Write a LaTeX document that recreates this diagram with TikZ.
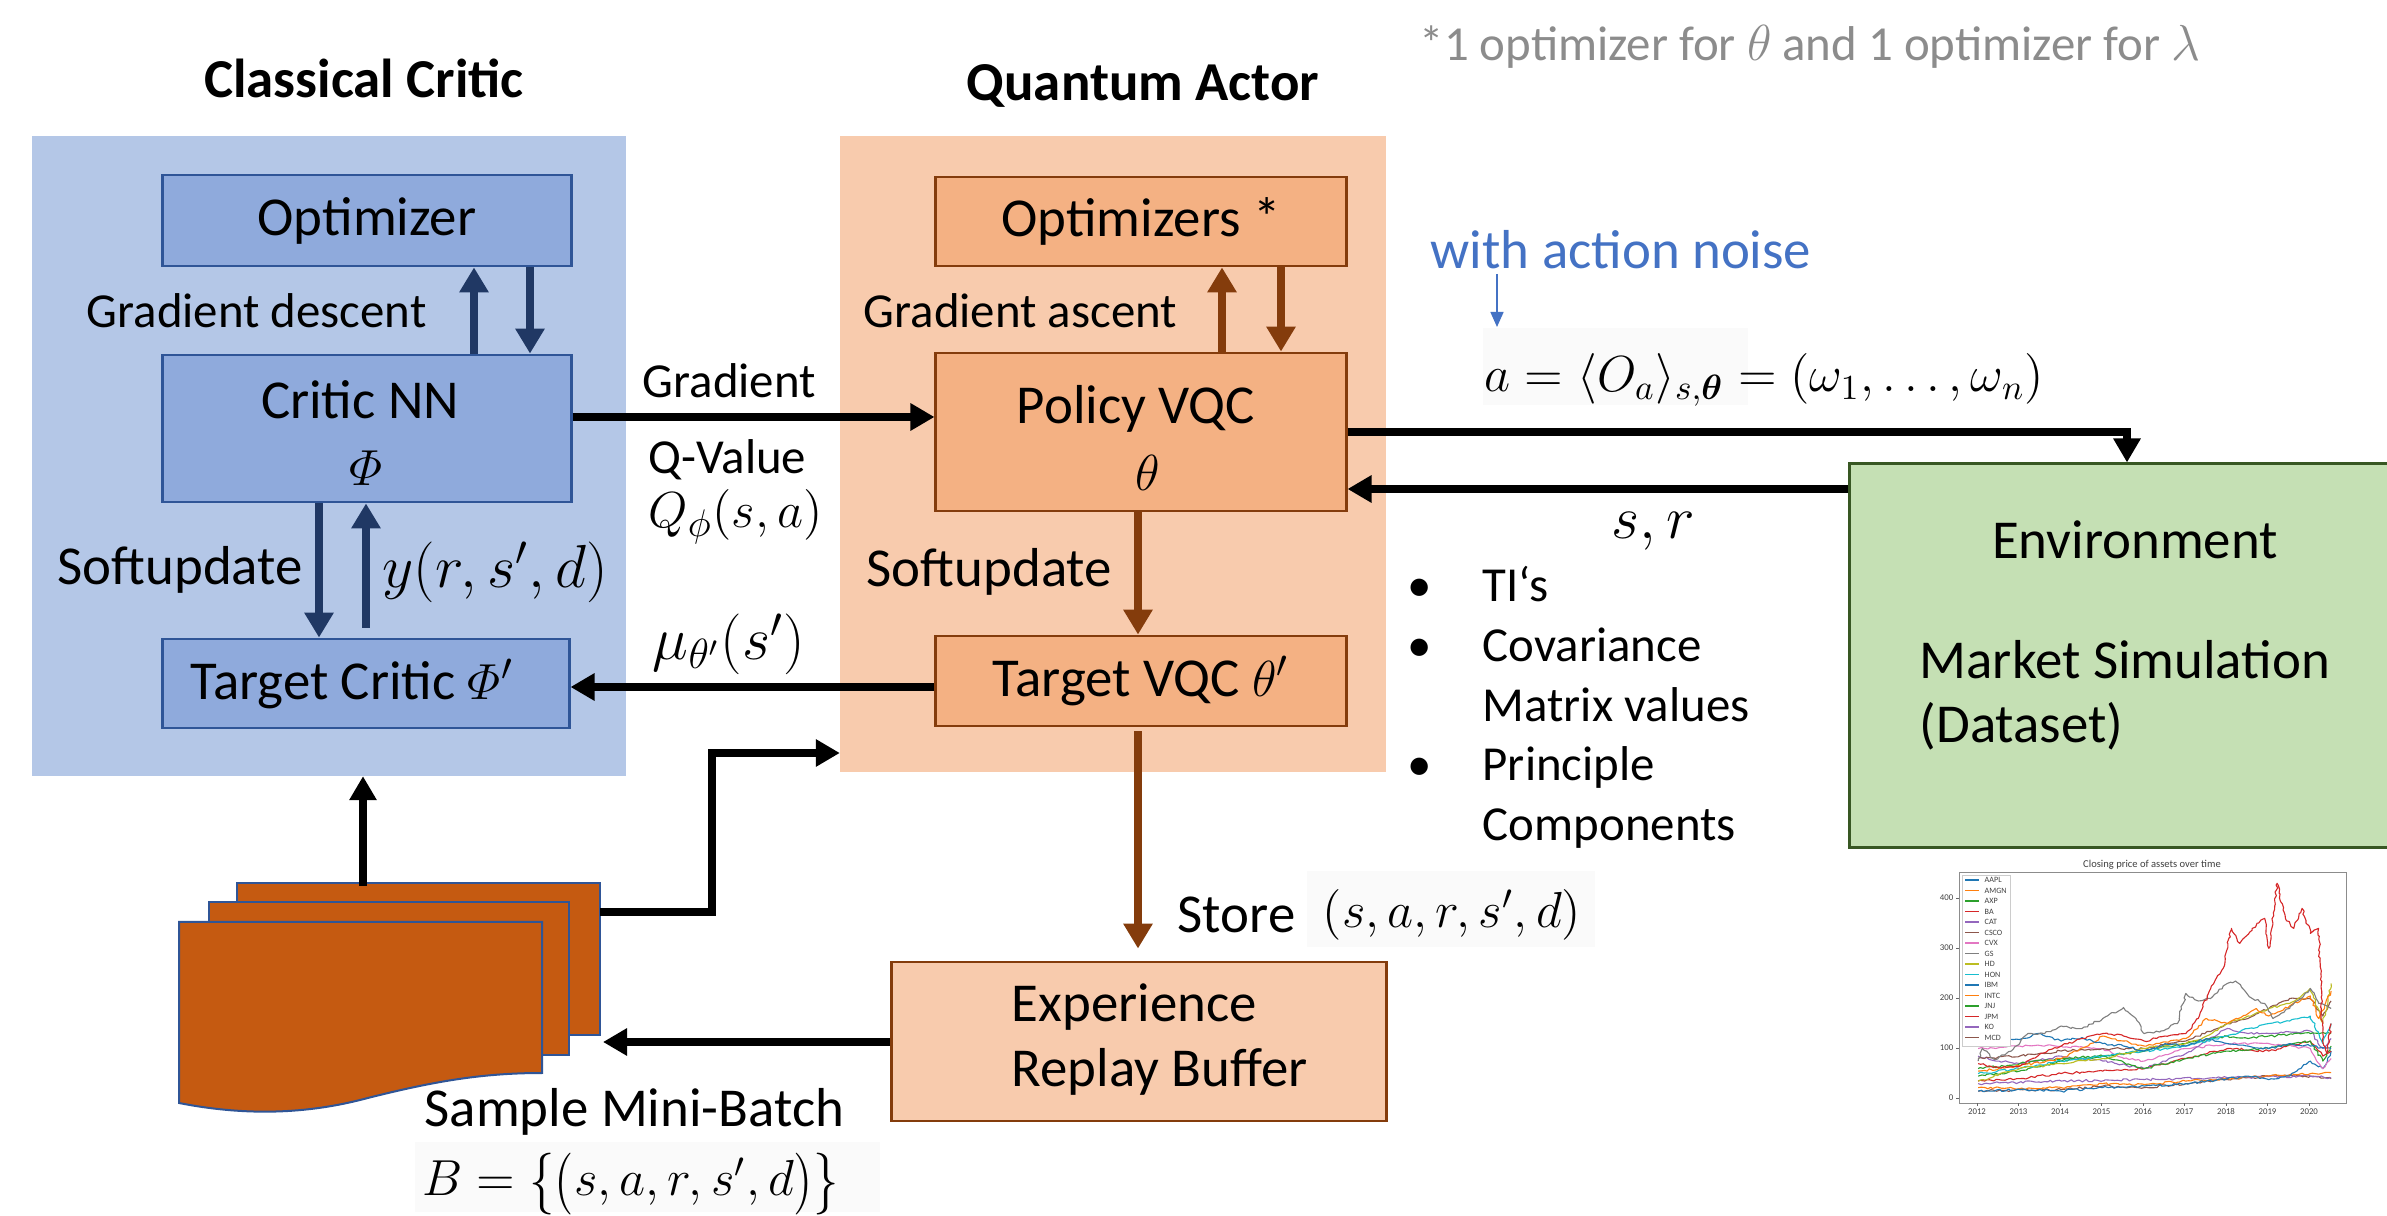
\documentclass[tikz,border=0pt]{standalone}
\usepackage{amsmath}
\usepackage{graphicx}
\usepackage{fontspec}
\setmainfont{Carlito}
\usetikzlibrary{arrows.meta,decorations.pathmorphing}
\definecolor{critbg}{HTML}{B4C7E7}
\definecolor{critbox}{HTML}{8FAADC}
\definecolor{critline}{HTML}{2F5597}
\definecolor{navy}{HTML}{203864}
\definecolor{actbg}{HTML}{F8CBAD}
\definecolor{actbox}{HTML}{F4B183}
\definecolor{brn}{HTML}{843C0C}
\definecolor{envbg}{HTML}{C5E0B4}
\definecolor{envline}{HTML}{385723}
\definecolor{docfill}{HTML}{C55A11}
\definecolor{noteblue}{HTML}{4472C4}
\definecolor{notegray}{HTML}{8C8C8C}
\definecolor{c1}{HTML}{1F77B4}
\definecolor{c2}{HTML}{FF7F0E}
\definecolor{c3}{HTML}{2CA02C}
\definecolor{c4}{HTML}{D62728}
\definecolor{c5}{HTML}{9467BD}
\definecolor{c6}{HTML}{8C564B}
\definecolor{c7}{HTML}{E377C2}
\definecolor{c8}{HTML}{7F7F7F}
\definecolor{c9}{HTML}{BCBD22}
\definecolor{c10}{HTML}{17BECF}
\newcommand{\fbig}{\fontsize{15.6}{19}\selectfont}
\newcommand{\fsml}{\fontsize{13.9}{17}\selectfont}
\newcommand{\fmath}{\fontsize{15}{18}\selectfont}
\newcommand{\fmathL}{\fontsize{17}{20}\selectfont}
\newcommand{\ftex}{\fontsize{14.2}{18}\selectfont}
\newcommand{\tallL}[1]{\mathopen{\raisebox{-0.07em}{\scalebox{1}[1.22]{$#1$}}}}
\newcommand{\tallR}[1]{\mathclose{\raisebox{-0.07em}{\scalebox{1}[1.22]{$#1$}}}}
\begin{document}
\begin{tikzpicture}[x=0.01cm,y=-0.01cm,
  region/.style={inner sep=0,outer sep=0},
  cbox/.style={draw=critline,fill=critbox,line width=0.028cm,inner sep=0,font=\fbig},
  abox/.style={draw=brn,fill=actbox,line width=0.028cm,inner sep=0,font=\fbig},
  lbl/.style={inner sep=0,font=\fbig},
  slbl/.style={inner sep=0,font=\fsml},
  mlbl/.style={inner sep=0,font=\fmath},
  blk/.style={draw=black,line width=0.075cm,-{Triangle[length=0.24cm,width=0.26cm]}},
  nvy/.style={draw=navy,line width=0.08cm,-{Triangle[length=0.25cm,width=0.28cm]}},
  brw/.style={draw=brn,line width=0.08cm,-{Triangle[length=0.25cm,width=0.28cm]}},
  docpage/.style={draw=critline,fill=docfill,line width=0.02cm},
  ser/.style={line width=0.011cm,line join=round,decorate,decoration={random steps,segment length=0.03cm,amplitude=0.012cm}},
  tiny/.style={inner sep=0,text=black!75}
]
\useasboundingbox (0,0) rectangle (2387,1216);
\fill[white] (0,0) rectangle (2387,1216);
\pgfmathsetseed{7}

% regions
\node[region,fill=critbg,minimum width=5.94cm,minimum height=6.40cm] (critReg) at (329,456) {};
\node[region,fill=actbg,minimum width=5.46cm,minimum height=6.36cm] (actReg) at (1113,454) {};
\node[lbl,font=\fbig\bfseries] (tCrit) at (364,78) {Classical Critic};
\node[lbl,font=\fbig\bfseries] (tAct) at (1143,86) {Quantum Actor};

% critic boxes
\node[cbox,minimum width=4.08cm,minimum height=0.91cm] (opt) at (367,220.5) {Optimizer};
\node[cbox,minimum width=4.08cm,minimum height=1.47cm] (cnn) at (367,428.5) {};
\node[lbl] (cnnA) at (360,400) {Critic NN};
\node[mlbl] (cnnB) at (366,468) {$\varPhi$};
\node[cbox,minimum width=4.06cm,minimum height=0.89cm] (tcrit) at (366,683.5) {};
\node[lbl] (tcritT) at (352,684) {Target Critic $\varPhi'$};

% actor boxes
\node[abox,minimum width=4.10cm,minimum height=0.89cm] (opts) at (1141,221.5) {Optimizers *};
\node[abox,minimum width=4.10cm,minimum height=1.58cm] (pol) at (1141,432) {};
\node[lbl] (polA) at (1136,409) {Policy VQC};
\node[mlbl] (polB) at (1148,473) {$\theta$};
\node[abox,minimum width=4.10cm,minimum height=0.90cm] (tvqc) at (1141,681) {Target VQC $\theta'$};

% replay buffer
\node[draw=brn,fill=actbg,line width=0.028cm,minimum width=4.94cm,minimum height=1.59cm,inner sep=0] (rep) at (1139,1041.5) {};
\node[lbl,anchor=west] (repA) at (1011,1007) {Experience};
\node[lbl,anchor=west] (repB) at (1011,1072) {Replay Buffer};

% environment
\node[draw=envline,fill=envbg,line width=0.028cm,minimum width=5.50cm,minimum height=3.83cm,inner sep=0] (env) at (2125,655.5) {};
\node[lbl] (envA) at (2135,540) {Environment};
\node[lbl,anchor=west] (envB) at (1919,660) {Market Simulation};
\node[lbl,anchor=west] (envC) at (1919,726) {(Dataset)};

% document stack
\filldraw[docpage] (237,883) rectangle (600,1035);
\filldraw[docpage] (209,902) rectangle (569,1055);
\filldraw[docpage] (179,922) -- (542,922) -- (542,1073) .. controls (480,1073) and (430,1082) .. (360,1100) .. controls (300,1115) and (240,1115) .. (179,1103) -- cycle;
\coordinate (stackTop) at (363,886);
\coordinate (stackR) at (600,912);
\coordinate (stackIn) at (603,1042);

% critic arrows
\coordinate (xa) at (474,0); \coordinate (xb) at (530,0);
\coordinate (xc) at (319,0); \coordinate (xd) at (366,0);
\draw[nvy] (cnn.north -| xa) -- (opt.south -| xa);
\draw[nvy] (opt.south -| xb) -- (cnn.north -| xb);
\draw[nvy] (cnn.south -| xc) -- (tcrit.north -| xc);
\draw[nvy,shorten <=0.1cm] (tcrit.north -| xd) -- (cnn.south -| xd);

% actor arrows
\coordinate (xe) at (1222,0); \coordinate (xf) at (1281,0); \coordinate (xg) at (1138,0);
\draw[brw] (pol.north -| xe) -- (opts.south -| xe);
\draw[brw] (opts.south -| xf) -- (pol.north -| xf);
\draw[brw] (pol.south -| xg) -- (tvqc.north -| xg);
\draw[brw,shorten <=0.04cm,shorten >=0.12cm] (tvqc.south -| xg) -- (rep.north -| xg);

% black connectors
\coordinate (gy) at (0,417);
\draw[blk] (cnn.east |- gy) -- (pol.west |- gy);
\coordinate (my) at (0,687);
\draw[blk] (tvqc.west |- my) -- (tcrit.east |- my);
\coordinate (py) at (0,432); \coordinate (ex) at (2127,0);
\draw[blk] (pol.east |- py) -| (env.north -| ex);
\coordinate (sy) at (0,489);
\draw[blk] (env.west |- sy) -- (pol.east |- sy);
\draw[blk] (rep.west |- stackIn) -- (stackIn);
\draw[blk] (stackTop) -- (critReg.south -| stackTop);
\coordinate (sa) at (712,753);
\draw[blk] (stackR) -| (sa) -- (actReg.west |- sa);

% labels
\node[slbl,anchor=west] (gd) at (86,311) {Gradient descent};
\node[slbl,anchor=west] (ga) at (863,311) {Gradient ascent};
\node[lbl,anchor=west] (su1) at (57,570) {Softupdate};
\node[lbl,anchor=west] (su2) at (866,572) {Softupdate};
\node[mlbl,font=\fmathL,anchor=west] (ylab) at (382,572) {$y(r,s',d)$};
\node[slbl,anchor=west] (grl) at (642,381) {Gradient};
\node[slbl,anchor=west] (qv) at (648,460) {Q-Value};
\node[mlbl,anchor=west] (qf) at (648,517) {$Q_\phi(s,a)$};
\node[mlbl,font=\fmathL,anchor=west] (mu) at (652,644) {$\mu_{\theta'}(s')$};

\node[lbl,anchor=west] (smb) at (424,1112) {Sample Mini-Batch};
\fill[black!2] (415,1142) rectangle (880,1212);
\node[inner sep=0,font=\fontsize{14.6}{18}\selectfont,anchor=west] (bset) at (422,1184) {$B=\tallL{\{}\tallL{(}s,a,r,s',d\tallR{)}\tallR{\}}$};

\node[lbl,anchor=west] (store) at (1177,915) {Store};
\fill[black!2] (1307,871) rectangle (1595,947);
\node[inner sep=0,font=\ftex] (storeM) at (1452,915) {$(s,a,r,s',d)$};

\fill[black!2] (1483,328) rectangle (1748,405);
\node[inner sep=0,font=\fontsize{13.8}{17}\selectfont,anchor=west] (eq) at (1484,380) {$a=\langle O_a\rangle_{s,\boldsymbol{\theta}}=(\omega_1,\ldots,\omega_n)$};
\node[mlbl,font=\fontsize{16}{19}\selectfont] (sr) at (1653,531) {$s,r$};
\node[lbl,text=noteblue,anchor=west] (noise) at (1430,250) {with action noise};
\coordinate (bn1) at (1497,274); \coordinate (bn2) at (1497,327);
\draw[noteblue,line width=0.015cm,-{Triangle[length=0.15cm,width=0.13cm]}] (bn1) -- (bn2);
\node[slbl,text=notegray,anchor=west] (note) at (1419,47) {*1 optimizer for $\theta$ and 1 optimizer for $\lambda$};

% bullets
\node[slbl,anchor=base] (b1) at (1420,602) {•};
\node[slbl,anchor=base] (b2) at (1420,662) {•};
\node[slbl,anchor=base] (b3) at (1420,781) {•};
\node[slbl,anchor=base west] (t1) at (1482,602) {TI‘s};
\node[slbl,anchor=base west] (t2) at (1482,662) {Covariance};
\node[slbl,anchor=base west] (t3) at (1482,722) {Matrix values};
\node[slbl,anchor=base west] (t4) at (1482,781) {Principle};
\node[slbl,anchor=base west] (t5) at (1482,841) {Components};

% chart
\begin{scope}
\clip (1959,872) rectangle (2346,1103);
\begin{scope}[shift={(19.77cm,-10.98cm)},x=0.415cm,y=0.005cm]
\draw[c6,ser] (0,15)--(2,18)--(3,25)--(4,22)--(5,30)--(6,38)--(7,45)--(8,45)--(8.5,40);
\draw[c5,ser] (0,30)--(2,35)--(4,38)--(6,42)--(8,45)--(8.5,42);
\draw[c2,ser] (0,22)--(1,20)--(2,22)--(3,30)--(4,28)--(5,35)--(6,40)--(7,45)--(8,50)--(8.5,52);
\draw[c1,ser] (0,15)--(1,18)--(2,15)--(3,22)--(4,25)--(5,30)--(6,40)--(6.5,45)--(7,38)--(7.5,45)--(8,75)--(8.3,60)--(8.5,95);
\draw[c4,ser] (0,35)--(1,40)--(2,50)--(3,55)--(4,60)--(5,80)--(6,100)--(7,95)--(8,115)--(8.3,85)--(8.5,95);
\draw[c7,ser] (0,100)--(1,105)--(2,105)--(3,100)--(3.5,80)--(4,75)--(5,100)--(6,110)--(7,110)--(8,100)--(8.3,60)--(8.5,80);
\draw[c5,ser] (0,85)--(0.5,75)--(1,70)--(2,85)--(3,75)--(4,60)--(5,90)--(6,140)--(6.5,130)--(7,130)--(8,135)--(8.3,100)--(8.5,120);
\draw[c3,ser] (0,45)--(1,55)--(2,75)--(3,85)--(4,60)--(5,80)--(6,95)--(7,100)--(8,115)--(8.3,75)--(8.5,105);
\draw[c3,ser] (0,60)--(1,70)--(2,80)--(3,85)--(4,95)--(5,110)--(6,125)--(6.5,120)--(7,125)--(8,130)--(8.5,130);
\draw[c6,ser] (0,80)--(1,85)--(2,95)--(3,100)--(4,100)--(5,115)--(6,150)--(6.5,160)--(7,180)--(7.5,200)--(8,200)--(8.3,165)--(8.5,195);
\draw[c10,ser] (0,50)--(1,60)--(2,75)--(3,85)--(4,95)--(5,105)--(6,125)--(6.5,140)--(7,150)--(7.5,155)--(8,165)--(8.3,110)--(8.5,150);
\draw[c9,ser] (0,35)--(1,60)--(2,70)--(3,80)--(4,100)--(5,110)--(5.5,125)--(6,150)--(6.5,165)--(7,180)--(7.5,190)--(8,220)--(8.3,150)--(8.5,230);
\draw[c2,ser] (0,55)--(1,65)--(2,80)--(2.7,110)--(3,125)--(3.5,115)--(4,105)--(5,120)--(5.5,160)--(6,150)--(6.7,180)--(7,165)--(7.5,185)--(8,205)--(8.2,160)--(8.5,215);
\draw[c1,ser] (0,110)--(0.5,122)--(1,118)--(1.5,130)--(2,115)--(2.5,122)--(3,110)--(3.5,105)--(4,95)--(4.5,110)--(5,105)--(5.5,120)--(6,110)--(6.5,105)--(7,100)--(7.5,110)--(8,105)--(8.5,100);
\draw[c8,ser] (0,75)--(0.1,100)--(0.4,78)--(0.8,95)--(1.2,130)--(1.6,130)--(2,145)--(2.5,140)--(3,160)--(3.5,182)--(3.8,160)--(4,130)--(4.4,135)--(4.8,150)--(5,210)--(5.3,195)--(5.6,200)--(6,230)--(6.2,235)--(6.6,200)--(6.9,190)--(7.1,160)--(7.5,180)--(8,220)--(8.2,190)--(8.5,180);
\draw[c4,ser] (0,70)--(0.5,62)--(1,65)--(1.5,90)--(2,105)--(2.5,120)--(3,130)--(3.5,125)--(4,115)--(4.5,125)--(5,130)--(5.3,160)--(5.6,220)--(5.9,260)--(6.1,340)--(6.3,310)--(6.6,340)--(6.9,360)--(7,300)--(7.2,430)--(7.4,360)--(7.6,340)--(7.8,380)--(8,330)--(8.2,340)--(8.3,120)--(8.4,90)--(8.5,150);
\end{scope}
\end{scope}
\draw[black!45,line width=0.008cm] (1959,872) rectangle (2346,1103);
\node[tiny,font=\fontsize{3}{3.5}\selectfont] (ctitle) at (2152,865) {Closing price of assets over time};
\foreach \yr [count=\k from 0] in {2012,2013,2014,2015,2016,2017,2018,2019,2020} {
  \draw[black!60,line width=0.006cm] ({1977+41.5*\k},1103) -- ({1977+41.5*\k},1106);
  \node[tiny,font=\fontsize{2.5}{3}\selectfont] (yr\k) at ({1977+41.5*\k},1112) {\yr};
}
\foreach \v in {0,100,200,300,400} {
  \draw[black!60,line width=0.006cm] (1956,{1098-0.5*\v}) -- (1959,{1098-0.5*\v});
  \node[tiny,font=\fontsize{2.5}{3}\selectfont,anchor=east] (yv\v) at (1954,{1098-0.5*\v}) {\v};
}
\filldraw[fill=white,draw=black!20,line width=0.005cm] (1962,875) rectangle (2010,1046);
\foreach \nm/\cl [count=\i from 0] in {AAPL/c1,AMGN/c2,AXP/c3,BA/c4,CAT/c5,CSCO/c6,CVX/c7,GS/c8,HD/c9,HON/c10,IBM/c1,INTC/c2,JNJ/c3,JPM/c4,KO/c5,MCD/c6} {
  \draw[\cl,line width=0.012cm] (1965,{880+10.5*\i}) -- (1979,{880+10.5*\i});
  \node[tiny,font=\fontsize{2.3}{2.6}\selectfont,anchor=west] (lg\i) at (1984,{880+10.5*\i}) {\nm};
}
\end{tikzpicture}
\end{document}
